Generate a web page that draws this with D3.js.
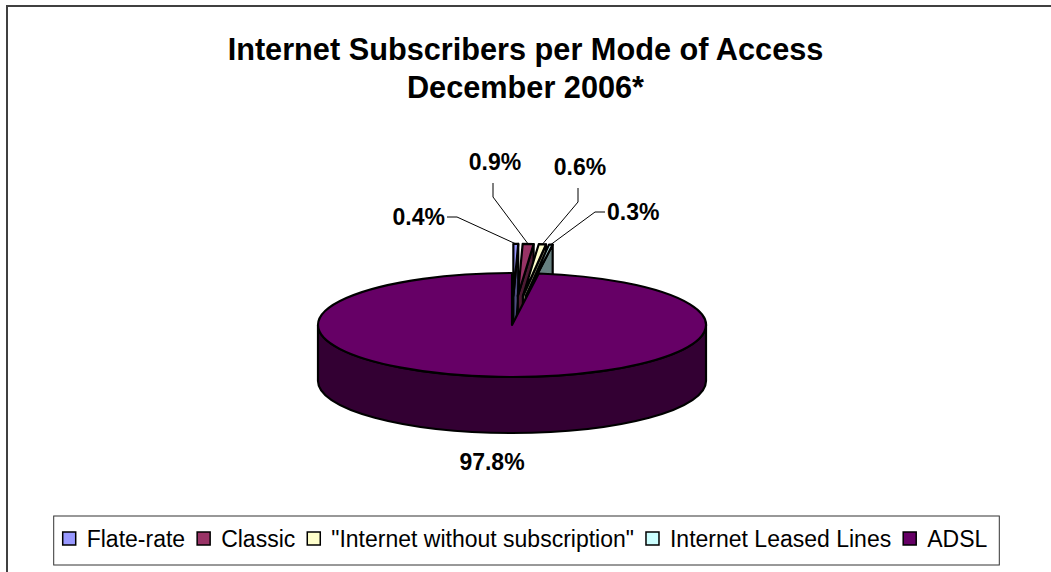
<!DOCTYPE html>
<html><head><meta charset="utf-8">
<script src="https://cdn.jsdelivr.net/npm/d3@7"></script>
<style>body{margin:0;background:#fff;} svg{display:block;}</style>
</head><body>
<svg id="chart" width="1051" height="572"></svg>
<script>
// ---- data ----
const categories = ["Flate-rate", "Classic", "\"Internet without subscription\"", "Internet Leased Lines", "ADSL"];
const shares = [0.4, 0.9, 0.6, 0.3, 97.8];
const valueLabels = ["0.4%", "0.9%", "0.6%", "0.3%", "97.8%"];
const titleLines = ["Internet Subscribers per Mode of Access", "December 2006*"];

// ---- styling / layout ----
const colors = ["#9999FF", "#993366", "#FFFFCC", "#CCFFFF", "#660066"];
const exploded = [true, true, true, true, false];
const labelLayout = [
  {x: 445, y: 225, anchor: "end", leg: "h"},
  {x: 495, y: 170, anchor: "middle", leg: "v"},
  {x: 580, y: 175, anchor: "middle", leg: "v"},
  {x: 607, y: 220, anchor: "start", leg: "h"},
  {x: 492, y: 470, anchor: "middle", leg: "none"}
];
const W = 1051, H = 572;
const cx = 512, cy = 325, rx = 194, ry = 52, depth = 56, explode = 0.56;
const FONT = "'Liberation Sans', Arial, sans-serif";

const svg = d3.select("#chart");
svg.append("rect").attr("x", 0).attr("y", 0).attr("width", W).attr("height", H).attr("fill", "#fff");
svg.append("rect").attr("x", 7).attr("y", 6).attr("width", 1100).attr("height", 700)
  .attr("fill", "none").attr("stroke", "#404040").attr("stroke-width", 2);

// title
svg.append("g").selectAll("text").data(titleLines).join("text")
  .attr("x", 525.5).attr("y", (d, i) => 60 + i * 38)
  .attr("text-anchor", "middle").attr("font-family", FONT).attr("font-weight", "bold")
  .attr("font-size", 30.7).attr("fill", "#000").text(d => d);

// ---- 3D pie ----
const pie = d3.pie().sort(null).value(d => d);
const arcs = pie(shares);

function offsetOf(i) {
  if (!exploded[i]) return {x: 0, y: 0};
  const m = (arcs[i].startAngle + arcs[i].endAngle) / 2;
  return {x: explode * rx * Math.sin(m), y: -explode * ry * Math.cos(m)};
}
function pt(t, o, z) { return [cx + o.x + rx * Math.sin(t), cy + o.y - ry * Math.cos(t) + (z || 0)]; }
function shade(c) { const r = d3.rgb(c); return d3.rgb(r.r * 0.5, r.g * 0.5, r.b * 0.5).formatHex(); }

const pieG = svg.append("g");
arcs.forEach((a, i) => {
  const o = offsetOf(i);
  const a0 = a.startAngle, a1 = a.endAngle;
  const apex = [cx + o.x, cy + o.y];
  const faces = [];
  if (Math.sin(a0) < -1e-6) {
    const p = pt(a0, o);
    faces.push(`M${apex[0]},${apex[1]}L${p[0]},${p[1]}L${p[0]},${p[1] + depth}L${apex[0]},${apex[1] + depth}Z`);
  }
  if (Math.sin(a1) > 1e-6) {
    const p = pt(a1, o);
    faces.push(`M${apex[0]},${apex[1]}L${p[0]},${p[1]}L${p[0]},${p[1] + depth}L${apex[0]},${apex[1] + depth}Z`);
  }
  const b0 = Math.max(a0, Math.PI / 2), b1 = Math.min(a1, 3 * Math.PI / 2);
  if (b1 > b0) {
    const p0 = pt(b0, o), p1 = pt(b1, o);
    const lg = (b1 - b0) > Math.PI ? 1 : 0;
    faces.push(`M${p0[0]},${p0[1]}A${rx},${ry} 0 ${lg} 1 ${p1[0]},${p1[1]}L${p1[0]},${p1[1] + depth}A${rx},${ry} 0 ${lg} 0 ${p0[0]},${p0[1] + depth}Z`);
  }
  faces.forEach(d => pieG.append("path").attr("d", d).attr("fill", shade(colors[i]))
    .attr("stroke", "#000").attr("stroke-width", 2.2).attr("stroke-linejoin", "round"));
  const q0 = pt(a0, o), q1 = pt(a1, o);
  const lgT = (a1 - a0) > Math.PI ? 1 : 0;
  pieG.append("path")
    .attr("d", `M${apex[0]},${apex[1]}L${q0[0]},${q0[1]}A${rx},${ry} 0 ${lgT} 1 ${q1[0]},${q1[1]}Z`)
    .attr("fill", colors[i]).attr("stroke", "#000").attr("stroke-width", 2.2).attr("stroke-linejoin", "round");
});

// ---- labels & leader lines ----
const labG = svg.append("g");
arcs.forEach((a, i) => {
  const L = labelLayout[i];
  const o = offsetOf(i);
  const m = (a.startAngle + a.endAngle) / 2;
  const anc = pt(m, o);
  if (L.leg !== "none") {
    let s, e;
    if (L.leg === "h") {
      const dir = L.anchor === "end" ? 1 : -1;
      s = [L.x + 2 * dir, L.y - 8]; e = [L.x + 12 * dir, L.y - 8];
    } else {
      s = [L.x - 2, L.y + 13]; e = [L.x - 2, L.y + 27];
    }
    labG.append("path").attr("d", d3.line()([s, e, anc]))
      .attr("fill", "none").attr("stroke", "#000").attr("stroke-width", 1);
  }
  labG.append("text").attr("x", L.x).attr("y", L.y).attr("text-anchor", L.anchor)
    .attr("font-family", FONT).attr("font-weight", "bold").attr("font-size", 23)
    .attr("fill", "#000").text(valueLabels[i]);
});

// ---- legend ----
const lg = svg.append("g");
const box = lg.append("rect").attr("fill", "#fff").attr("stroke", "#333").attr("stroke-width", 1);
let xPos = 0;
categories.forEach((c, i) => {
  const g = lg.append("g");
  g.append("rect").attr("x", xPos).attr("y", -15).attr("width", 13).attr("height", 13)
    .attr("fill", colors[i]).attr("stroke", "#000").attr("stroke-width", 1.5);
  const t = g.append("text").attr("x", xPos + 24).attr("y", 0).attr("font-family", FONT)
    .attr("font-size", 23).attr("fill", "#000").text(c);
  const w = t.node().getComputedTextLength();
  xPos += 24 + w + 12;
});
const totalW = xPos - 12;
const lx = 525 - totalW / 2;
lg.attr("transform", `translate(${lx},547)`);
box.attr("x", -9).attr("y", -31).attr("width", totalW + 21).attr("height", 49);
</script>
</body></html>
